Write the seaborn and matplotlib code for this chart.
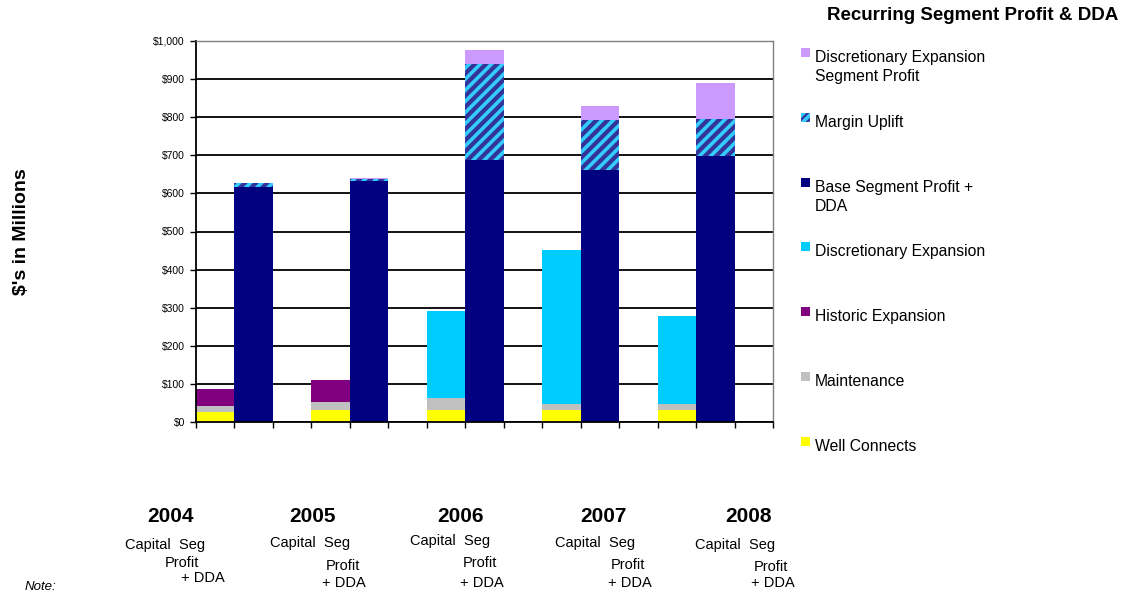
import matplotlib
matplotlib.use('Agg')
import numpy as np
import matplotlib.pyplot as plt
from matplotlib.patches import Rectangle
import seaborn as sns

plt.rcParams['font.family'] = ['Liberation Sans', 'DejaVu Sans']
plt.rcParams['hatch.linewidth'] = 2.6

# values in $ millions
years = ['2004', '2005', '2006', '2007', '2008']
well_connects = [27, 31, 31, 31, 31]
maintenance = [16, 21, 33, 16, 16]
historic_exp = [43, 58, 0, 0, 0]
discretionary_exp = [0, 0, 227, 404, 232]
base_seg_profit = [616, 633, 688, 661, 699]
margin_uplift = [10, 4, 251, 132, 96]
disc_exp_seg_profit = [0, 3, 37, 36, 94]

legend_labels = ['Discretionary Expansion\nSegment Profit', 'Margin Uplift',
                 'Base Segment Profit +\nDDA', 'Discretionary Expansion',
                 'Historic Expansion', 'Maintenance', 'Well Connects']

c_pink = '#CC99FF'
c_hatch_bg = '#333399'
c_hatch_fg = '#33CCFF'
c_navy = '#000080'
c_cyan = '#00CCFF'
c_purple = '#800080'
c_gray = '#C0C0C0'
c_yellow = '#FFFF00'

W, H = 1131, 594
fig = plt.figure(figsize=(W / 100, H / 100), dpi=100)
ax = fig.add_axes([196 / W, 1 - 422 / H, 577 / W, 381 / H])

# three slots per year: capital bar, segment profit bar, empty gap
slots = []
for y in years:
    slots += [y + ' cap', y + ' seg', y + ' gap']
cap_x = [y + ' cap' for y in years]
seg_x = [y + ' seg' for y in years]

c1 = np.array(well_connects)
c2 = c1 + np.array(maintenance)
c3 = c2 + np.array(historic_exp)
c4 = c3 + np.array(discretionary_exp)
s1 = np.array(base_seg_profit)
s2 = s1 + np.array(margin_uplift)
s3 = s2 + np.array(disc_exp_seg_profit)

# stacked by drawing cumulative totals from the top layer down
layers = [
    (cap_x, c4, c_cyan, {}),
    (cap_x, c3, c_purple, {}),
    (cap_x, c2, c_gray, {}),
    (cap_x, c1, c_yellow, {}),
    (seg_x, s3, c_pink, {}),
    (seg_x, s2, c_hatch_bg, {'hatch': '///', 'edgecolor': c_hatch_fg}),
    (seg_x, s1, c_navy, {}),
]
for xs, vals, col, extra in layers:
    sns.barplot(x=xs, y=vals, order=slots, color=col, width=1, saturation=1,
                linewidth=0, errorbar=None, ax=ax, **extra)

ax.set_xlim(-0.5, len(slots) - 0.5)
ax.set_ylim(0, 1000)
ax.set_xlabel('')
ax.set_ylabel('')
ax.set_xticks(np.arange(-0.5, len(slots), 1))
ax.set_xticklabels([])
ax.tick_params(axis='x', length=4, width=1, color='black')
ax.set_yticks(range(0, 1001, 100))
ax.set_yticklabels(['$' + format(v, ',') for v in range(0, 1001, 100)], fontsize=7.5)
ax.tick_params(axis='y', length=4, width=1, color='black', pad=4)
ax.yaxis.grid(True, color='black', lw=1.3)
ax.set_axisbelow(True)
for s in ['left', 'bottom']:
    ax.spines[s].set_color('black')
    ax.spines[s].set_linewidth(1.3)
for s in ['top', 'right']:
    ax.spines[s].set_color('#808080')
    ax.spines[s].set_linewidth(1.0)

fig.text(22 / W, 1 - 232 / H, "$'s in Millions", rotation=90, fontsize=14,
         fontweight='bold', ha='center', va='center')

# legend, drawn by hand so every entry gets the same step
fig.text(973 / W, 1 - 16 / H, 'Recurring Segment Profit & DDA', fontsize=13.5,
         fontweight='bold', ha='center', va='center')
leg_colors = [c_pink, c_hatch_bg, c_navy, c_cyan, c_purple, c_gray, c_yellow]
for i, (lab, col) in enumerate(zip(legend_labels, leg_colors)):
    ty = 56 + i * 64.8
    kw = {'hatch': '////', 'edgecolor': c_hatch_fg, 'linewidth': 0} if i == 1 else {'linewidth': 0}
    fig.patches.append(Rectangle((801 / W, 1 - (ty + 1) / H), 9 / W, 9 / H,
                                 transform=fig.transFigure, facecolor=col, **kw))
    fig.text(815 / W, 1 - (ty - 6) / H, lab, fontsize=11.3, va='top', ha='left',
             linespacing=1.35)

# year captions under the plot
year_x = [170, 313, 460, 603, 748]
cap_left = [125, 270, 410, 555, 695]
cap_y = [545, 543, 541, 543, 545]
profit_x = [182, 343, 480, 628, 771]
profit_y = [563, 566, 563, 565, 567]
dda_x = [203, 344, 482, 630, 773]
dda_y = [578, 583, 583, 583, 583]
for i, y in enumerate(years):
    fig.text(year_x[i] / W, 1 - 517 / H, y, fontsize=15, fontweight='bold',
             ha='center', va='center')
    fig.text(cap_left[i] / W, 1 - cap_y[i] / H, 'Capital  Seg', fontsize=10.5,
             ha='left', va='center')
    fig.text(profit_x[i] / W, 1 - profit_y[i] / H, 'Profit', fontsize=10.5,
             ha='center', va='center')
    fig.text(dda_x[i] / W, 1 - dda_y[i] / H, '+ DDA', fontsize=10.5,
             ha='center', va='center')

fig.text(25 / W, 1 - 587 / H, 'Note:', fontsize=9.5, style='italic',
         ha='left', va='center')

fig.savefig('out.png', dpi=100)
